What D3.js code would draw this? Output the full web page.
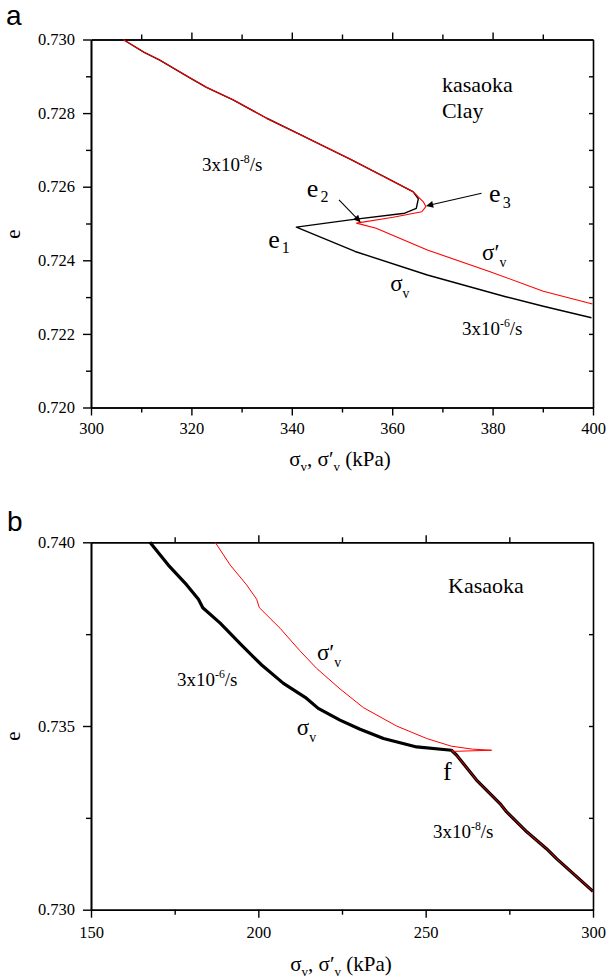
<!DOCTYPE html>
<html>
<head>
<meta charset="utf-8">
<script src="https://cdn.jsdelivr.net/npm/d3@7"></script>
<style>
  html, body { margin: 0; padding: 0; background: #fff; }
  svg { display: block; }
</style>
</head>
<body>
<script>
// ---- Panel a: void ratio vs. vertical stress, Kasaoka clay, rate step ----
// shared loading branch at 3x10^-8/s  [stress (kPa), void ratio]
const aSlowBranch = [
  [306.4, 0.73000], [310.6, 0.72965], [313.7, 0.72944], [319.7, 0.72896],
  [323.0, 0.72870], [328.3, 0.72836], [335.0, 0.72786], [341.6, 0.72742],
  [351.9, 0.72673], [358.0, 0.72630], [364.2, 0.72586]
];
// total stress after the rate change (to e1, then 3x10^-6/s)
const aTotalAfter = [
  [365.2, 0.72567], [364.8, 0.72541], [362.5, 0.72528], [351.6, 0.72510],
  [340.9, 0.72490], [352.6, 0.72424], [367.0, 0.72360], [382.6, 0.72301],
  [390.1, 0.72275], [399.7, 0.72244]
];
// effective stress after the rate change
const aEffectiveAfter = [
  [366.2, 0.72559], [366.7, 0.72546], [365.9, 0.72532], [360.2, 0.72517],
  [352.9, 0.72501], [356.8, 0.72487], [367.0, 0.72428], [379.5, 0.72369],
  [390.1, 0.72316], [399.9, 0.72281]
];

// ---- Panel b: Kasaoka, fast loading then slow loading ----
const bTotalFast = [
  [167.6, 0.74000], [173.1, 0.73938], [178.6, 0.73884], [182.1, 0.73845],
  [183.4, 0.73822], [188.6, 0.73780], [195.0, 0.73720], [201.0, 0.73666],
  [207.5, 0.73616], [214.0, 0.73578], [217.9, 0.73548], [224.4, 0.73516],
  [230.4, 0.73491], [237.4, 0.73466], [247.3, 0.73443], [257.7, 0.73434]
];
const bEffectiveFast = [
  [187.1, 0.74000], [191.6, 0.73938], [196.5, 0.73884], [199.5, 0.73845],
  [200.3, 0.73822], [206.5, 0.73766], [212.4, 0.73705], [217.4, 0.73657],
  [224.4, 0.73601], [231.4, 0.73550], [241.3, 0.73500], [250.3, 0.73466],
  [257.7, 0.73445], [264.0, 0.73437], [269.7, 0.73434], [258.5, 0.73431]
];
const bSlowBranch = [
  [257.7, 0.73434], [259.2, 0.73421], [265.2, 0.73353], [272.2, 0.73289],
  [274.2, 0.73266], [280.2, 0.73212], [286.1, 0.73166], [289.1, 0.73139],
  [300.0, 0.73050]
];

// ---- ticks ----
const aXMajor = [300, 320, 340, 360, 380, 400];
const aXMinor = [310, 330, 350, 370, 390];
const aYMajor = [0.720, 0.722, 0.724, 0.726, 0.728, 0.730];
const aYMinor = [0.721, 0.723, 0.725, 0.727, 0.729];
const bXMajor = [150, 200, 250, 300];
const bXMinor = [175, 225, 275];
const bYMajor = [0.730, 0.735, 0.740];
const bYMinor = [0.7325, 0.7375];

const SERIF = "'Liberation Serif', 'Times New Roman', Times, serif";
const SANS = "'Liberation Sans', Arial, Helvetica, sans-serif";

const W = 609, H = 979;
const svg = d3.select("body").append("svg").attr("width", W).attr("height", H);

const xA = d3.scaleLinear().domain([300, 400]).range([91, 593]);
const yA = d3.scaleLinear().domain([0.720, 0.730]).range([407.5, 39.5]);
const xB = d3.scaleLinear().domain([150, 300]).range([91, 593]);
const yB = d3.scaleLinear().domain([0.730, 0.740]).range([909.7, 542.3]);

function serifText(g, size) {
  return g.append("text").attr("font-family", SERIF).attr("font-size", size).attr("fill", "#000");
}

function styleAxis(sel, labelSize) {
  sel.attr("font-family", SERIF).attr("font-size", labelSize);
  sel.select(".domain").attr("stroke", "#000").attr("stroke-width", 1.6);
  sel.selectAll(".tick line").attr("stroke", "#000").attr("stroke-width", 1.4);
  sel.selectAll(".tick text").attr("font-family", SERIF).attr("font-size", labelSize)
     .attr("fill", "#000");
}

function drawFrame(x, y, t) {
  const [x0, x1] = x.range();
  const [y0, y1] = y.range();
  const g = svg.append("g");
  // bottom: labelled majors, short minors (outward)
  g.append("g").attr("transform", `translate(0,${y0})`)
    .call(d3.axisBottom(x).tickValues(t.xMajor).tickSize(8).tickSizeOuter(0)
      .tickPadding(t.xPad).tickFormat(d3.format("d")))
    .call(s => styleAxis(s, 16.5));
  g.append("g").attr("transform", `translate(0,${y0})`)
    .call(d3.axisBottom(x).tickValues(t.xMinor).tickSize(5).tickSizeOuter(0).tickFormat(""))
    .call(s => styleAxis(s, 16.5));
  // top: unlabelled, outward
  g.append("g").attr("transform", `translate(0,${y1})`)
    .call(d3.axisTop(x).tickValues(t.xMajor.filter(v => v !== x.domain()[0] && v !== x.domain()[1]))
      .tickSize(7).tickSizeOuter(0).tickFormat(""))
    .call(s => styleAxis(s, 16.5));
  g.append("g").attr("transform", `translate(0,${y1})`)
    .call(d3.axisTop(x).tickValues(t.xMinor).tickSize(5).tickSizeOuter(0).tickFormat(""))
    .call(s => styleAxis(s, 16.5));
  // left: labelled majors, minors (outward)
  g.append("g").attr("transform", `translate(${x0},0)`)
    .call(d3.axisLeft(y).tickValues(t.yMajor).tickSize(8).tickSizeOuter(0)
      .tickPadding(8).tickFormat(d3.format(".3f")))
    .call(s => styleAxis(s, 16.5));
  g.append("g").attr("transform", `translate(${x0},0)`)
    .call(d3.axisLeft(y).tickValues(t.yMinor).tickSize(5).tickSizeOuter(0).tickFormat(""))
    .call(s => styleAxis(s, 16.5));
  // right: short inward ticks
  const inner = t.yMajor.concat(t.yMinor).filter(v => v !== y.domain()[0] && v !== y.domain()[1]);
  g.append("g").attr("transform", `translate(${x1},0)`)
    .call(d3.axisRight(y).tickValues(inner).tickSize(-4).tickSizeOuter(0).tickFormat(""))
    .call(s => styleAxis(s, 16.5));
  return g;
}

// rich-text helpers (subscripts / superscripts)
function rateLabel(g, x, y, exp, size) {
  const t = serifText(g, size).attr("x", x).attr("y", y);
  t.append("tspan").text("3x10");
  t.append("tspan").attr("font-size", size * 0.62).attr("dy", -size * 0.42).text(exp);
  t.append("tspan").attr("font-size", size).attr("dy", size * 0.42).text("/s");
}
function sigmaLabel(g, x, y, size, prime) {
  const t = serifText(g, size).attr("x", x).attr("y", y);
  t.append("tspan").text(prime ? "σ′" : "σ");
  t.append("tspan").attr("font-size", size * 0.6).attr("dy", size * 0.3).text("v");
}
function subLabel(g, x, y, main, sub, size, subSize, shift) {
  const t = serifText(g, size).attr("x", x).attr("y", y);
  t.append("tspan").text(main);
  t.append("tspan").attr("font-size", subSize).attr("dx", 2).attr("dy", shift).text(sub);
}
function axisTitle(g, cx, y) {
  const t = serifText(g, 21).attr("x", cx).attr("y", y).attr("text-anchor", "middle");
  t.append("tspan").text("σ");
  t.append("tspan").attr("font-size", 13).attr("dy", 5).text("v");
  t.append("tspan").attr("font-size", 21).attr("dy", -5).text(", σ′");
  t.append("tspan").attr("font-size", 13).attr("dy", 5).text("v");
  t.append("tspan").attr("font-size", 21).attr("dy", -5).text(" (kPa)");
}
function yTitle(g, x, y) {
  serifText(g, 21).attr("text-anchor", "middle")
    .attr("transform", `translate(${x},${y}) rotate(-90)`).text("e");
}

// arrowhead
svg.append("defs").append("marker")
  .attr("id", "head").attr("viewBox", "0 0 10 10").attr("refX", 9).attr("refY", 5)
  .attr("markerWidth", 9).attr("markerHeight", 7).attr("markerUnits", "userSpaceOnUse")
  .attr("orient", "auto")
  .append("path").attr("d", "M0,0 L10,5 L0,10 Z").attr("fill", "#000");

// ================= Panel a =================
const gA = drawFrame(xA, yA, { xMajor: aXMajor, xMinor: aXMinor, yMajor: aYMajor, yMinor: aYMinor, xPad: 7 });
const lineA = d3.line().x(d => xA(d[0])).y(d => yA(d[1]));

gA.append("path").datum(aSlowBranch.concat(aTotalAfter))
  .attr("d", lineA).attr("fill", "none").attr("stroke", "#000").attr("stroke-width", 1.4)
  .attr("stroke-linejoin", "round");
gA.append("path").datum(aSlowBranch.concat(aEffectiveAfter))
  .attr("d", lineA).attr("fill", "none").attr("stroke", "#ff0000").attr("stroke-width", 1.1)
  .attr("stroke-linejoin", "round");

// arrows pointing at e2 and e3
gA.append("line")
  .attr("x1", xA(349.4)).attr("y1", yA(0.72564)).attr("x2", xA(353.6)).attr("y2", yA(0.72505))
  .attr("stroke", "#000").attr("stroke-width", 1.1).attr("marker-end", "url(#head)");
gA.append("line")
  .attr("x1", xA(377.8)).attr("y1", yA(0.72582)).attr("x2", xA(366.9)).attr("y2", yA(0.72548))
  .attr("stroke", "#000").attr("stroke-width", 1.1).attr("marker-end", "url(#head)");

serifText(gA, 22).attr("x", xA(369.9)).attr("y", yA(0.72857)).text("kasaoka");
serifText(gA, 22).attr("x", xA(369.9)).attr("y", yA(0.72787)).text("Clay");
rateLabel(gA, xA(322.1), yA(0.72643), "-8", 19);
rateLabel(gA, xA(373.9), yA(0.72197), "-6", 19);
subLabel(gA, xA(343.0), yA(0.72572), "e", "2", 26, 16, 5);
subLabel(gA, xA(379.3), yA(0.72559), "e", "3", 26, 16, 6);
subLabel(gA, xA(335.3), yA(0.72433), "e", "1", 26, 16, 5);
sigmaLabel(gA, xA(377.9), yA(0.72401), 23, true);
sigmaLabel(gA, xA(359.6), yA(0.72317), 23, false);

axisTitle(gA, 340, 466);
yTitle(gA, 20, 234);
svg.append("text").attr("font-family", SANS).attr("font-size", 28).attr("fill", "#000")
  .attr("x", 6).attr("y", 25).text("a");

// ================= Panel b =================
const gB = drawFrame(xB, yB, { xMajor: bXMajor, xMinor: bXMinor, yMajor: bYMajor, yMinor: bYMinor, xPad: 9 });
const lineB = d3.line().x(d => xB(d[0])).y(d => yB(d[1]));

gB.append("path").datum(bTotalFast.concat(bSlowBranch.slice(1)))
  .attr("d", lineB).attr("fill", "none").attr("stroke", "#000").attr("stroke-width", 3.2)
  .attr("stroke-linejoin", "round");
gB.append("path").datum(bEffectiveFast.concat(bSlowBranch))
  .attr("d", lineB).attr("fill", "none").attr("stroke", "#ff0000").attr("stroke-width", 1)
  .attr("stroke-linejoin", "round");

serifText(gB, 22).attr("x", xB(256.7)).attr("y", yB(0.73862)).text("Kasaoka");
sigmaLabel(gB, xB(217.5), yB(0.73680), 23, true);
rateLabel(gB, xB(175.7), yB(0.73609), "-6", 19);
sigmaLabel(gB, xB(211.5), yB(0.73476), 23, false);
serifText(gB, 26).attr("x", xB(255.2)).attr("y", yB(0.73354)).text("f");
rateLabel(gB, xB(252.2), yB(0.73196), "-8", 19);

axisTitle(gB, 341, 971);
yTitle(gB, 20, 736);
svg.append("text").attr("font-family", SANS).attr("font-size", 28).attr("fill", "#000")
  .attr("x", 7).attr("y", 531).text("b");
</script>
</body>
</html>
